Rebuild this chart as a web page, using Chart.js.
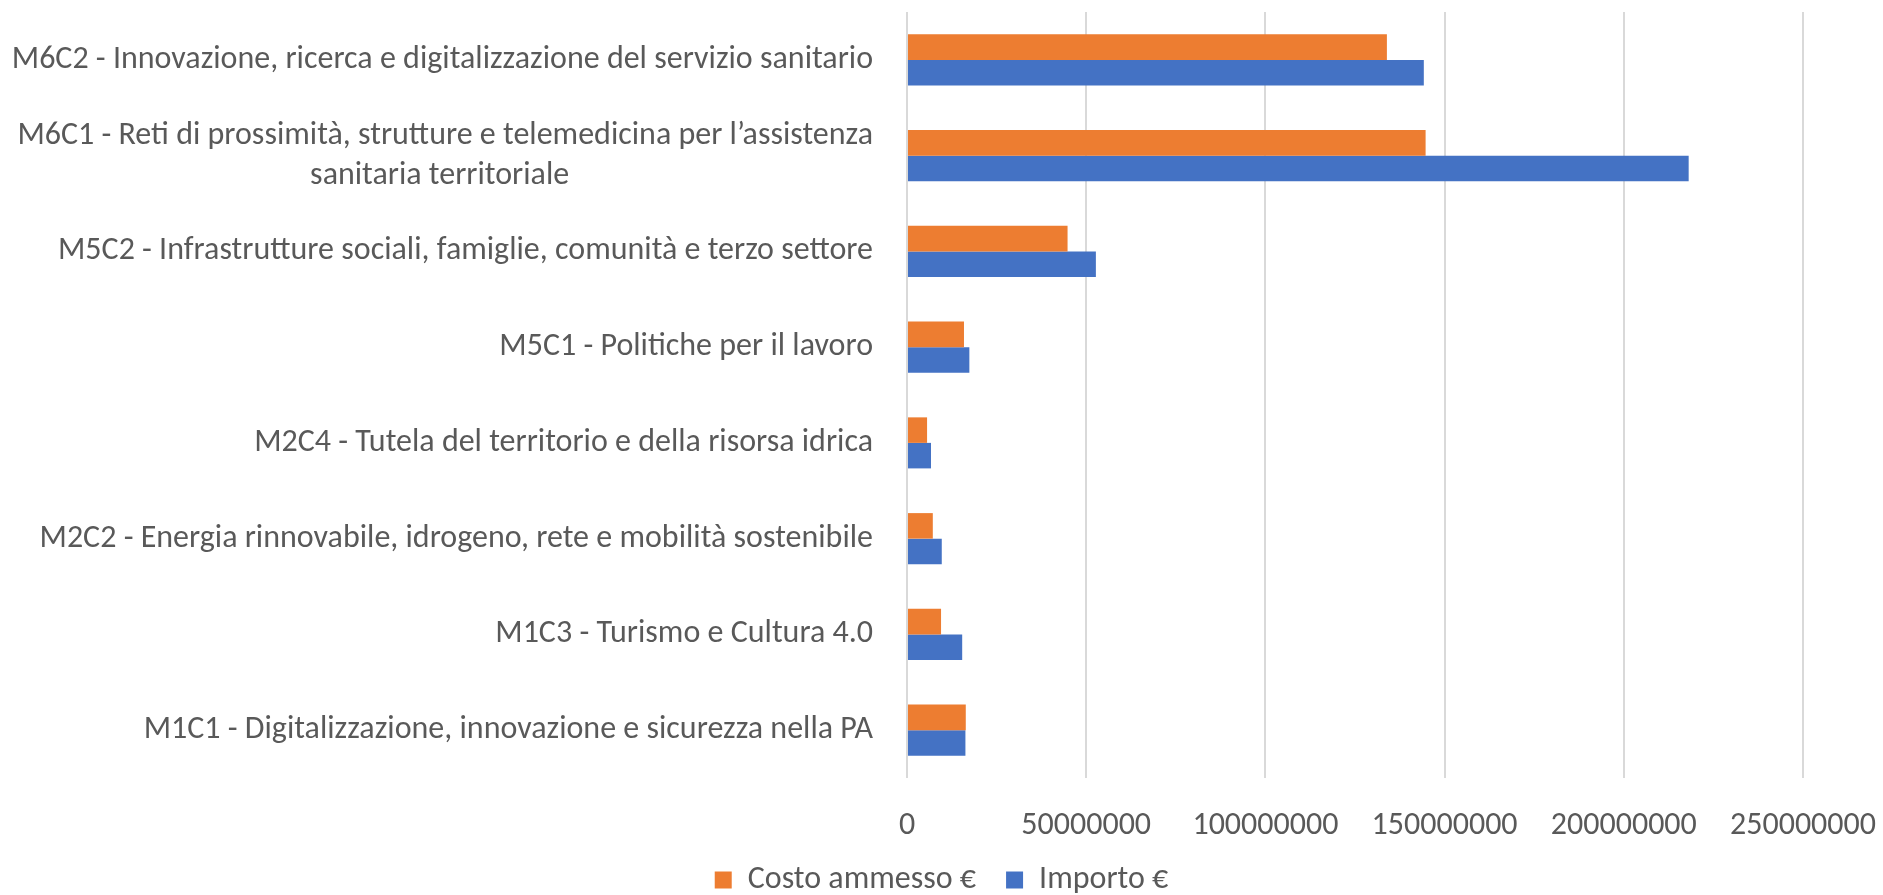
<!DOCTYPE html>
<html>
<head>
<meta charset="utf-8">
<script src="https://cdn.jsdelivr.net/npm/chart.js@4.4.1/dist/chart.umd.min.js"></script>
<style>
  html, body { margin: 0; padding: 0; background: #fff; }
  #wrap { width: 1883px; height: 895px; }
</style>
</head>
<body>
<div id="wrap"><canvas id="pnrrChart"></canvas></div>
<script>
const categories = [
    'M6C2 - Innovazione, ricerca e digitalizzazione del servizio sanitario',
    ['M6C1 - Reti di prossimità, strutture e telemedicina per l’assistenza', 'sanitaria territoriale'],
    'M5C2 - Infrastrutture sociali, famiglie, comunità e terzo settore',
    'M5C1 - Politiche per il lavoro',
    'M2C4 - Tutela del territorio e della risorsa idrica',
    'M2C2 - Energia rinnovabile, idrogeno, rete e mobilità sostenibile',
    'M1C3 - Turismo e Cultura 4.0',
    'M1C1 - Digitalizzazione, innovazione e sicurezza nella PA'
];

const costoAmmesso = [133900000, 144700000, 44800000, 15900000, 5600000, 7200000, 9500000, 16400000];
const importo = [144200000, 218100000, 52700000, 17400000, 6700000, 9700000, 15400000, 16300000];

const xTicks = [0, 50000000, 100000000, 150000000, 200000000, 250000000];

const fontFamily = 'Carlito, Calibri, "Liberation Sans Narrow", "Liberation Sans", sans-serif';
const textColor = '#595959';
const fontSize = 32;

// centre the second line of the wrapped label under the first one
function centreLines(label, font) {
    if (!Array.isArray(label)) return label;
    const ctx = document.createElement('canvas').getContext('2d');
    ctx.font = font;
    const w0 = ctx.measureText(label[0]).width;
    let second = label[1];
    const target = ctx.measureText(second).width + (w0 - ctx.measureText(second).width) / 2;
    while (ctx.measureText(second).width < target) {
        second += ' ';
    }
    return [label[0], second];
}

const yLabels = categories.map(c => centreLines(c, fontSize + 'px ' + fontFamily));

let chart = new Chart(document.getElementById('pnrrChart'), {
    type: 'bar',
    data: {
        labels: yLabels,
        datasets: [{
            label: 'Costo ammesso €',
            data: costoAmmesso,
            backgroundColor: '#ED7D31',
            categoryPercentage: 0.533,
            barPercentage: 1.0
        },
        {
            label: 'Importo €',
            data: importo,
            backgroundColor: '#4472C4',
            categoryPercentage: 0.533,
            barPercentage: 1.0
        }]
    },
    options: {
        indexAxis: 'y',
        responsive: true,
        maintainAspectRatio: false,
        animation: false,
        layout: {
            // legend sits a bit lower than chart.js would put it
            padding: { top: 12, right: 0, bottom: -11, left: 0 }
        },
        plugins: {
            legend: {
                position: 'bottom',
                labels: {
                    boxWidth: 17,
                    boxHeight: 17,
                    padding: 30,
                    color: textColor,
                    font: { family: fontFamily, size: fontSize }
                }
            },
            tooltip: { enabled: false }
        },
        scales: {
            x: {
                min: 0,
                max: 250000000,
                afterBuildTicks: scale => {
                    scale.ticks = xTicks.map(v => ({ value: v }));
                },
                afterFit: scale => {
                    scale.height = 56;
                    scale.paddingLeft = 0;
                    scale.paddingRight = 80;
                },
                grid: {
                    color: '#D9D9D9',
                    lineWidth: 2,
                    drawTicks: false
                },
                border: { display: false },
                ticks: {
                    color: textColor,
                    padding: 29,
                    maxRotation: 0,
                    font: { family: fontFamily, size: fontSize },
                    callback: v => String(v)
                }
            },
            y: {
                afterFit: scale => {
                    scale.width = 907;
                    scale.paddingTop = 0;
                    scale.paddingBottom = 0;
                },
                grid: { display: false },
                border: { display: false },
                ticks: {
                    color: textColor,
                    padding: 26,
                    font: { family: fontFamily, size: fontSize, lineHeight: 1.25 }
                }
            }
        }
    }
});
</script>
</body>
</html>
